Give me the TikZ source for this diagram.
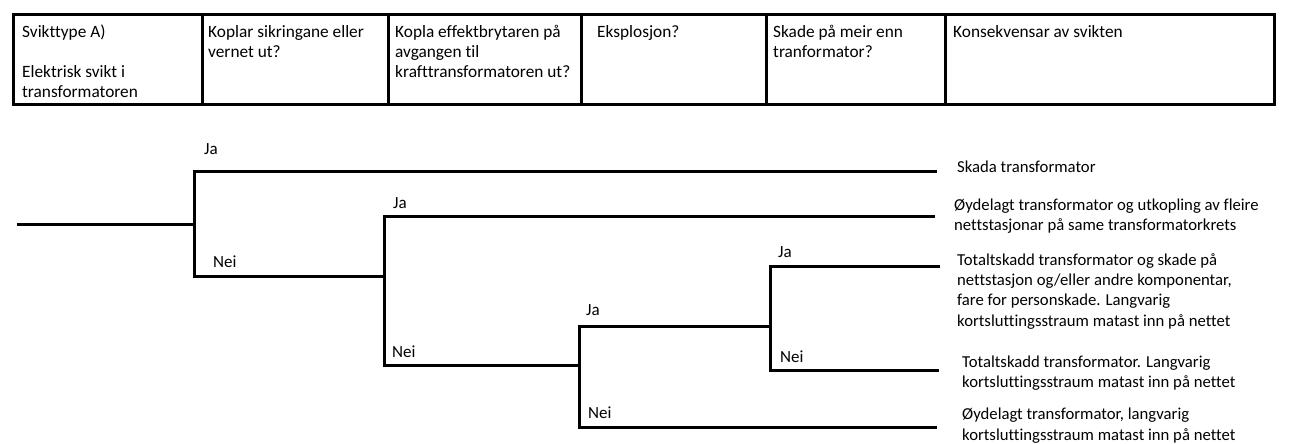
\documentclass[tikz,border=0pt]{standalone}
\usepackage{fontspec}
\setmainfont[Ligatures=NoCommon]{Carlito}
\begin{document}
\begin{tikzpicture}[x=1pt,y=-1pt,
  cell/.style={draw=black, line width=3pt, minimum width=#1, minimum height=90pt, anchor=north west, inner sep=0pt},
  htxt/.style={anchor=north west, inner sep=0pt, align=left, font=\fontsize{17.3}{20}\selectfont},
  txt/.style={anchor=north west, inner sep=0pt, align=left, font=\fontsize{16.7}{20.3}\selectfont},
  lab/.style={anchor=base west, inner sep=0pt, font=\fontsize{17}{20.3}\selectfont},
  branch/.style={line width=3pt, line join=miter}]
\useasboundingbox[fill=white] (0,0) rectangle (1296,444);
% header cells
\node[cell=189pt] (h1) at (12,13) {};
\node[cell=186pt] (h2) at (201,13) {};
\node[cell=193pt] (h3) at (387,13) {};
\node[cell=185pt] (h4) at (580,13) {};
\node[cell=179pt] (h5) at (765,13) {};
\node[cell=329pt] (h6) at (944,13) {};
% header texts
\node[htxt] (t1) at (22,23) {\strut Svikttype A)\\ \\Elektrisk svikt i\\transformatoren};
\node[htxt] (t2) at (208,23) {\strut Koplar sikringane eller\\vernet ut?};
\node[htxt] (t3) at (395,23) {\strut Kopla effektbrytaren på\\avgangen til\\krafttransformatoren ut?};
\node[htxt] (t4) at (597,23) {\strut Eksplosjon?};
\node[htxt] (t5) at (773,23) {\strut Skade på meir enn\\tranformator?};
\node[htxt] (t6) at (953,23) {\strut Konsekvensar av svikten};
% tree coordinates
\coordinate (r0) at (17,224);
\coordinate (n1) at (194,224);
\coordinate (n1a) at (194,171);
\coordinate (n1b) at (194,276);
\coordinate (n2) at (384,276);
\coordinate (n2a) at (384,216);
\coordinate (n2b) at (384,365);
\coordinate (n3) at (579,365);
\coordinate (n3a) at (579,326);
\coordinate (n3b) at (579,427);
\coordinate (n4) at (770,326);
\coordinate (n4a) at (770,266);
\coordinate (n4b) at (770,370);
\coordinate (e1) at (937,171);
\coordinate (e2) at (935,216);
\coordinate (e3) at (940,266);
\coordinate (e4) at (939,370);
\coordinate (e5) at (937,427);
% branches
\draw[branch] (r0) -- (n1);
\draw[branch] (e1) -- (n1a) -- (n1b) -- (n2);
\draw[branch] (e2) -- (n2a) -- (n2b) -- (n3);
\draw[branch] (e5) -- (n3b) -- (n3a) -- (n4);
\draw[branch] (e3) -- (n4a) -- (n4b) -- (e4);
% labels
\node[lab] (ja1) at (204,154) {Ja};
\node[lab] (nei1) at (213,267) {Nei};
\node[lab] (ja2) at (393,208) {Ja};
\node[lab] (nei2) at (392,357) {Nei};
\node[lab] (ja3) at (586,315) {Ja};
\node[lab] (nei3) at (588,418) {Nei};
\node[lab] (ja4) at (778,257) {Ja};
\node[lab] (nei4) at (780,362) {Nei};
% consequences
\node[txt] (c1) at (957,157.8) {\strut Skada transformator};
\node[txt] (c2) at (954,195.8) {\strut Øydelagt transformator og utkopling av fleire\\nettstasjonar på same transformatorkrets};
\node[txt] (c3) at (957,250.8) {\strut Totaltskadd transformator og skade på\\nettstasjon og/eller andre komponentar,\\fare for personskade. Langvarig\\kortsluttingsstraum matast inn på nettet};
\node[txt] (c4) at (962,352.8) {\strut Totaltskadd transformator. Langvarig\\kortsluttingsstraum matast inn på nettet};
\node[txt] (c5) at (962,405.5) {\strut Øydelagt transformator, langvarig\\kortsluttingsstraum matast inn på nettet};
\end{tikzpicture}
\end{document}
